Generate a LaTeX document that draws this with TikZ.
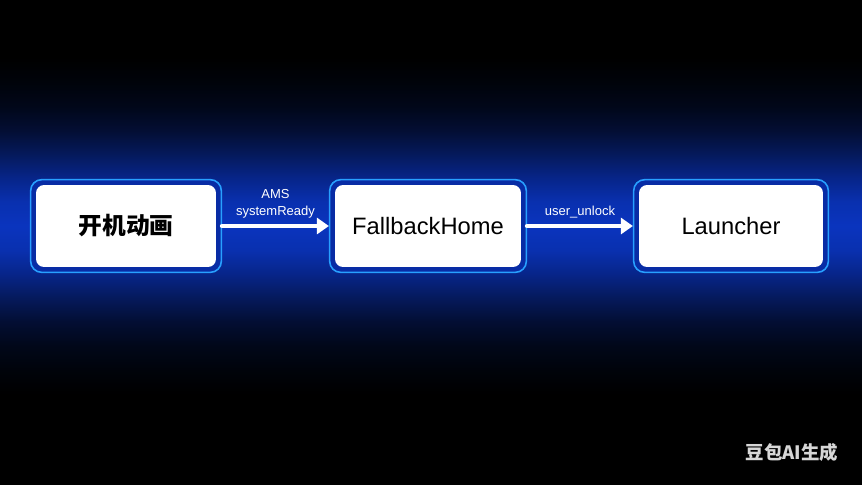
\documentclass[tikz,border=0pt]{standalone}
\usepackage{fontspec}
\setmainfont{Liberation Sans}
\newfontfamily\cjk{Noto Sans CJK SC}
\usetikzlibrary{arrows.meta,fit,backgrounds}

\definecolor{glowa}{RGB}{10,52,190}
\definecolor{glowb}{RGB}{9,48,175}
\definecolor{glowc}{RGB}{7,37,137}
\definecolor{glowd}{RGB}{5,25,91}
\definecolor{glowe}{RGB}{3,14,51}
\definecolor{glowf}{RGB}{1,7,25}
\definecolor{glowg}{RGB}{0,3,10}
\definecolor{framecyan}{RGB}{40,160,255}
\definecolor{framefill}{RGB}{8,44,165}
\definecolor{markgray}{RGB}{215,215,215}

\pgfdeclareverticalshading{glowband}{100bp}{color(0bp)=(black); color(34.25bp)=(black);
  color(36.75bp)=(glowg); color(39.25bp)=(glowf); color(41.75bp)=(glowe); color(44.2bp)=(glowd);
  color(46.7bp)=(glowc); color(49.15bp)=(glowb); color(51.65bp)=(glowa);
  color(54.15bp)=(glowb); color(56.6bp)=(glowc); color(59.1bp)=(glowd); color(61.55bp)=(glowe);
  color(64.05bp)=(glowf); color(66.55bp)=(glowg); color(69.05bp)=(black); color(100bp)=(black)}

\begin{document}
\begin{tikzpicture}[x=0.02cm, y=-0.02cm,
    box/.style = {fill=white, rounded corners=0.16cm, minimum height=1.64cm, text=black},
    frame/.style = {draw=framecyan, line width=0.9pt, fill=framefill, rounded corners=0.22cm, inner sep=0.1cm},
    flow/.style = {white, line width=0.09cm, line cap=round, -{Triangle[length=0.24cm, width=0.32cm]}},
    flowlabel/.style = {white, font=\fontsize{7.4}{9.6}\selectfont, align=center, above=0.08cm, inner sep=1pt}]

    \useasboundingbox (0,0) rectangle (862,484);

    % 1. Trzy etapy
    \node[box, minimum width=3.6cm, font=\cjk\bfseries\fontsize{13.5}{16}\selectfont] (anim) at (126,226) {开机动画};
    \node[box, minimum width=3.72cm, font=\fontsize{13.5}{16}\selectfont] (fallback) at (428,226) {FallbackHome};
    \node[box, minimum width=3.68cm, font=\fontsize{13.5}{16}\selectfont] (launcher) at (731,226) {Launcher};

    % 2. Tło i ramki
    \begin{scope}[on background layer]
        \shade[shading=glowband] (0,0) rectangle (862,484);
        \node[frame, fit=(anim)] (animframe) {};
        \node[frame, fit=(fallback)] (fallbackframe) {};
        \node[frame, fit=(launcher)] (launcherframe) {};
    \end{scope}

    % 3. Przejścia
    \draw[flow] (animframe.east) -- (fallbackframe.west) node[flowlabel, midway] {AMS\\systemReady};
    \draw[flow] (fallbackframe.east) -- (launcherframe.west) node[flowlabel, midway] {user\_unlock};

    \node[markgray, font=\cjk\bfseries\fontsize{10.5}{12}\selectfont] (mark) at (792,452) {豆包AI生成};
\end{tikzpicture}
\end{document}
